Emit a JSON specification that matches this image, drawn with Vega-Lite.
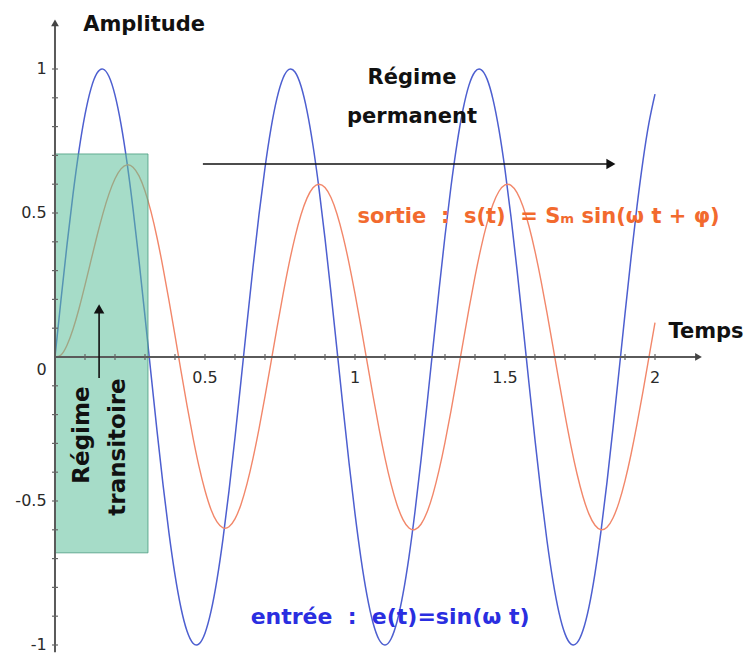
{
  "$schema": "https://vega.github.io/schema/vega-lite/v6.json",
  "width": 748,
  "height": 654,
  "autosize": "none",
  "padding": 0,
  "config": {"view": {"stroke": null}, "font": "DejaVu Sans"},
  "datasets": {
    "signal": [
      {"t": 0, "e": 0, "s": 0},
      {"t": 0.02, "e": 0.1987, "s": 0.0068},
      {"t": 0.04, "e": 0.3894, "s": 0.0407},
      {"t": 0.06, "e": 0.5646, "s": 0.0963},
      {"t": 0.08, "e": 0.7174, "s": 0.1677},
      {"t": 0.1, "e": 0.8415, "s": 0.2493},
      {"t": 0.12, "e": 0.932, "s": 0.3353},
      {"t": 0.14, "e": 0.9854, "s": 0.4202},
      {"t": 0.16, "e": 0.9996, "s": 0.4988},
      {"t": 0.18, "e": 0.9738, "s": 0.5664},
      {"t": 0.2, "e": 0.9093, "s": 0.6189},
      {"t": 0.22, "e": 0.8085, "s": 0.6533},
      {"t": 0.24, "e": 0.6755, "s": 0.6671},
      {"t": 0.26, "e": 0.5155, "s": 0.6591},
      {"t": 0.28, "e": 0.335, "s": 0.6288},
      {"t": 0.3, "e": 0.1411, "s": 0.5767},
      {"t": 0.32, "e": -0.0584, "s": 0.5046},
      {"t": 0.34, "e": -0.2555, "s": 0.4149},
      {"t": 0.36, "e": -0.4425, "s": 0.3106},
      {"t": 0.38, "e": -0.6119, "s": 0.1958},
      {"t": 0.4, "e": -0.7568, "s": 0.0748},
      {"t": 0.42, "e": -0.8716, "s": -0.048},
      {"t": 0.44, "e": -0.9516, "s": -0.1677},
      {"t": 0.46, "e": -0.9937, "s": -0.2798},
      {"t": 0.48, "e": -0.9962, "s": -0.3799},
      {"t": 0.5, "e": -0.9589, "s": -0.4637},
      {"t": 0.52, "e": -0.8835, "s": -0.5294},
      {"t": 0.54, "e": -0.7728, "s": -0.5729},
      {"t": 0.56, "e": -0.6313, "s": -0.5932},
      {"t": 0.58, "e": -0.4646, "s": -0.5894},
      {"t": 0.6, "e": -0.2794, "s": -0.5622},
      {"t": 0.62, "e": -0.0831, "s": -0.5119},
      {"t": 0.64, "e": 0.1165, "s": -0.4408},
      {"t": 0.66, "e": 0.3115, "s": -0.3522},
      {"t": 0.68, "e": 0.4941, "s": -0.2496},
      {"t": 0.7, "e": 0.657, "s": -0.1369},
      {"t": 0.72, "e": 0.7937, "s": -0.0184},
      {"t": 0.74, "e": 0.8987, "s": 0.1009},
      {"t": 0.76, "e": 0.9679, "s": 0.2163},
      {"t": 0.78, "e": 0.9985, "s": 0.3231},
      {"t": 0.8, "e": 0.9894, "s": 0.4165},
      {"t": 0.82, "e": 0.9407, "s": 0.4938},
      {"t": 0.84, "e": 0.8546, "s": 0.5517},
      {"t": 0.86, "e": 0.7344, "s": 0.5876},
      {"t": 0.88, "e": 0.5849, "s": 0.6},
      {"t": 0.9, "e": 0.4121, "s": 0.5885},
      {"t": 0.92, "e": 0.2229, "s": 0.5536},
      {"t": 0.94, "e": 0.0248, "s": 0.4966},
      {"t": 0.96, "e": -0.1743, "s": 0.4198},
      {"t": 0.98, "e": -0.3665, "s": 0.3262},
      {"t": 1.0, "e": -0.544, "s": 0.2197},
      {"t": 1.02, "e": -0.6999, "s": 0.1043},
      {"t": 1.04, "e": -0.8278, "s": -0.0151},
      {"t": 1.06, "e": -0.9228, "s": -0.134},
      {"t": 1.08, "e": -0.9809, "s": -0.2475},
      {"t": 1.1, "e": -1.0, "s": -0.3511},
      {"t": 1.12, "e": -0.9792, "s": -0.4408},
      {"t": 1.14, "e": -0.9193, "s": -0.5129},
      {"t": 1.16, "e": -0.8228, "s": -0.5645},
      {"t": 1.18, "e": -0.6938, "s": -0.5936},
      {"t": 1.2, "e": -0.5366, "s": -0.5991},
      {"t": 1.22, "e": -0.3582, "s": -0.5807},
      {"t": 1.24, "e": -0.1656, "s": -0.5392},
      {"t": 1.26, "e": 0.0336, "s": -0.4761},
      {"t": 1.28, "e": 0.2315, "s": -0.394},
      {"t": 1.3, "e": 0.4202, "s": -0.2962},
      {"t": 1.32, "e": 0.5921, "s": -0.1867},
      {"t": 1.34, "e": 0.7403, "s": -0.0697},
      {"t": 1.36, "e": 0.8593, "s": 0.0501},
      {"t": 1.38, "e": 0.9441, "s": 0.1679},
      {"t": 1.4, "e": 0.9906, "s": 0.279},
      {"t": 1.42, "e": 0.998, "s": 0.3791},
      {"t": 1.44, "e": 0.9657, "s": 0.4639},
      {"t": 1.46, "e": 0.8948, "s": 0.5303},
      {"t": 1.48, "e": 0.7883, "s": 0.5755},
      {"t": 1.5, "e": 0.6503, "s": 0.5978},
      {"t": 1.52, "e": 0.4864, "s": 0.5962},
      {"t": 1.54, "e": 0.3031, "s": 0.5707},
      {"t": 1.56, "e": 0.1078, "s": 0.5228},
      {"t": 1.58, "e": -0.0919, "s": 0.4539},
      {"t": 1.6, "e": -0.2879, "s": 0.3669},
      {"t": 1.62, "e": -0.4724, "s": 0.2653},
      {"t": 1.64, "e": -0.6381, "s": 0.1531},
      {"t": 1.66, "e": -0.7783, "s": 0.0348},
      {"t": 1.68, "e": -0.8876, "s": -0.0849},
      {"t": 1.7, "e": -0.9614, "s": -0.2012},
      {"t": 1.72, "e": -0.9969, "s": -0.3095},
      {"t": 1.74, "e": -0.9927, "s": -0.4055},
      {"t": 1.76, "e": -0.9488, "s": -0.4852},
      {"t": 1.78, "e": -0.8674, "s": -0.5456},
      {"t": 1.8, "e": -0.751, "s": -0.5843},
      {"t": 1.82, "e": -0.6049, "s": -0.5998},
      {"t": 1.84, "e": -0.4346, "s": -0.5912},
      {"t": 1.86, "e": -0.247, "s": -0.5591},
      {"t": 1.88, "e": -0.0496, "s": -0.5048},
      {"t": 1.9, "e": 0.1499, "s": -0.4303},
      {"t": 1.92, "e": 0.3433, "s": -0.3386},
      {"t": 1.94, "e": 0.5231, "s": -0.2335},
      {"t": 1.96, "e": 0.6819, "s": -0.119},
      {"t": 1.98, "e": 0.8137, "s": 0.0002},
      {"t": 2.0, "e": 0.9129, "s": 0.1195}
    ]
  },
  "layer": [
    {
      "data": {"name": "signal"},
      "mark": {"type": "line", "color": "#4d5fd0", "strokeWidth": 1.5, "interpolate": "natural"},
      "encoding": {
        "x": {"field": "t", "type": "quantitative", "scale": {"domain": [-0.1833, 2.31], "nice": false, "zero": false}, "axis": null},
        "y": {"field": "e", "type": "quantitative", "scale": {"domain": [-1.0313, 1.2396], "nice": false, "zero": false}, "axis": null}
      }
    },
    {
      "data": {"name": "signal"},
      "mark": {"type": "line", "color": "#f2876a", "strokeWidth": 1.4, "interpolate": "natural"},
      "encoding": {
        "x": {"field": "t", "type": "quantitative"},
        "y": {"field": "s", "type": "quantitative"}
      }
    },
    {
      "data": {"values": [{"t": 0, "t2": 0.31, "v": 0.705, "v2": -0.68}]},
      "mark": {"type": "rect", "fill": "#5cbf9a", "fillOpacity": 0.55, "stroke": "#4a9c80", "strokeWidth": 1, "strokeOpacity": 0.8},
      "encoding": {
        "x": {"field": "t", "type": "quantitative"},
        "x2": {"field": "t2"},
        "y": {"field": "v", "type": "quantitative"},
        "y2": {"field": "v2"}
      }
    },
    {
      "data": {"values": [
        {"t": 0, "t2": 0, "v": -1.025, "v2": 1.15},
        {"t": 0, "t2": 2.14, "v": 0, "v2": 0}
      ]},
      "mark": {"type": "rule", "color": "#5a5a5a", "strokeWidth": 2},
      "encoding": {
        "x": {"field": "t", "type": "quantitative"},
        "x2": {"field": "t2"},
        "y": {"field": "v", "type": "quantitative"},
        "y2": {"field": "v2"}
      }
    },
    {
      "data": {"values": [
        {"t": 0, "v": 1.16, "dir": "up"},
        {"t": 2.145, "v": 0, "dir": "right"}
      ]},
      "mark": {"type": "point", "filled": true, "opacity": 1, "size": 60, "color": "#444"},
      "encoding": {
        "x": {"field": "t", "type": "quantitative"},
        "y": {"field": "v", "type": "quantitative"},
        "shape": {"field": "dir", "type": "nominal", "scale": {"domain": ["up", "right"], "range": ["triangle-up", "triangle-right"]}, "legend": null}
      }
    },
    {
      "data": {"values": [
        {"v": -1}, {"v": -0.9}, {"v": -0.8}, {"v": -0.7}, {"v": -0.6}, {"v": -0.5}, {"v": -0.4}, {"v": -0.3}, {"v": -0.2}, {"v": -0.1},
        {"v": 0.1}, {"v": 0.2}, {"v": 0.3}, {"v": 0.4}, {"v": 0.5}, {"v": 0.6}, {"v": 0.7}, {"v": 0.8}, {"v": 0.9}, {"v": 1}
      ]},
      "mark": {"type": "tick", "orient": "horizontal", "size": 6, "thickness": 1.2, "color": "#666", "opacity": 1},
      "encoding": {
        "x": {"datum": 0, "type": "quantitative"},
        "y": {"field": "v", "type": "quantitative"}
      }
    },
    {
      "data": {"values": [
        {"t": 0.1}, {"t": 0.2}, {"t": 0.3}, {"t": 0.4}, {"t": 0.5}, {"t": 0.6}, {"t": 0.7}, {"t": 0.8}, {"t": 0.9}, {"t": 1.0},
        {"t": 1.1}, {"t": 1.2}, {"t": 1.3}, {"t": 1.4}, {"t": 1.5}, {"t": 1.6}, {"t": 1.7}, {"t": 1.8}, {"t": 1.9}, {"t": 2.0}
      ]},
      "mark": {"type": "tick", "orient": "vertical", "size": 6, "thickness": 1.2, "color": "#666", "opacity": 1},
      "encoding": {
        "x": {"field": "t", "type": "quantitative"},
        "y": {"datum": 0, "type": "quantitative"}
      }
    },
    {
      "data": {"values": [
        {"t": 0.5, "v": -0.073, "label": "0.5"},
        {"t": 1.0, "v": -0.073, "label": "1"},
        {"t": 1.5, "v": -0.073, "label": "1.5"},
        {"t": 2.0, "v": -0.073, "label": "2"}
      ]},
      "mark": {"type": "text", "fontSize": 16, "color": "#2a2a2a", "align": "center", "baseline": "middle"},
      "encoding": {
        "x": {"field": "t", "type": "quantitative"},
        "y": {"field": "v", "type": "quantitative"},
        "text": {"field": "label"}
      }
    },
    {
      "data": {"values": [
        {"t": -0.028, "v": 1, "label": "1"},
        {"t": -0.028, "v": 0.5, "label": "0.5"},
        {"t": -0.028, "v": -0.045, "label": "0"},
        {"t": -0.028, "v": -0.5, "label": "-0.5"},
        {"t": -0.028, "v": -1, "label": "-1"}
      ]},
      "mark": {"type": "text", "fontSize": 16, "color": "#2a2a2a", "align": "right", "baseline": "middle"},
      "encoding": {
        "x": {"field": "t", "type": "quantitative"},
        "y": {"field": "v", "type": "quantitative"},
        "text": {"field": "label"}
      }
    },
    {
      "data": {"values": [
        {"t": 0.493, "t2": 1.84, "v": 0.67, "v2": 0.67},
        {"t": 0.147, "t2": 0.147, "v": -0.073, "v2": 0.16}
      ]},
      "mark": {"type": "rule", "color": "#111", "strokeWidth": 1.6},
      "encoding": {
        "x": {"field": "t", "type": "quantitative"},
        "x2": {"field": "t2"},
        "y": {"field": "v", "type": "quantitative"},
        "y2": {"field": "v2"}
      }
    },
    {
      "data": {"values": [
        {"t": 1.853, "v": 0.67, "dir": "right"},
        {"t": 0.147, "v": 0.167, "dir": "up"}
      ]},
      "mark": {"type": "point", "filled": true, "opacity": 1, "size": 110, "color": "#111"},
      "encoding": {
        "x": {"field": "t", "type": "quantitative"},
        "y": {"field": "v", "type": "quantitative"},
        "shape": {"field": "dir", "type": "nominal", "scale": {"domain": ["up", "right"], "range": ["triangle-up", "triangle-right"]}, "legend": null}
      }
    },
    {
      "data": {"values": [
        {"t": 0.297, "v": 1.153, "label": "Amplitude"},
        {"t": 2.17, "v": 0.087, "label": "Temps"},
        {"t": 1.19, "v": 0.969, "label": "Régime"},
        {"t": 1.19, "v": 0.833, "label": "permanent"}
      ]},
      "mark": {"type": "text", "fontSize": 21, "fontWeight": "bold", "color": "#111", "align": "center", "baseline": "middle"},
      "encoding": {
        "x": {"field": "t", "type": "quantitative"},
        "y": {"field": "v", "type": "quantitative"},
        "text": {"field": "label"}
      }
    },
    {
      "data": {"values": [
        {"t": 0.09, "v": -0.271, "label": "Régime"},
        {"t": 0.21, "v": -0.3125, "label": "transitoire"}
      ]},
      "mark": {"type": "text", "fontSize": 23, "fontWeight": "bold", "color": "#111", "align": "center", "baseline": "middle", "angle": 270},
      "encoding": {
        "x": {"field": "t", "type": "quantitative"},
        "y": {"field": "v", "type": "quantitative"},
        "text": {"field": "label"}
      }
    },
    {
      "data": {"values": [
        {"t": 1.612, "v": 0.486, "label": "sortie\u00a0\u00a0:\u00a0\u00a0s(t)\u00a0\u00a0=\u00a0Sₘ\u00a0sin(ω\u00a0t\u00a0+\u00a0φ)"}
      ]},
      "mark": {"type": "text", "fontSize": 21, "fontWeight": "bold", "color": "#f26a2e", "align": "center", "baseline": "middle"},
      "encoding": {
        "x": {"field": "t", "type": "quantitative"},
        "y": {"field": "v", "type": "quantitative"},
        "text": {"field": "label"}
      }
    },
    {
      "data": {"values": [
        {"t": 1.117, "v": -0.903, "label": "entrée\u00a0\u00a0:\u00a0\u00a0e(t)=sin(ω\u00a0t)"}
      ]},
      "mark": {"type": "text", "fontSize": 22, "fontWeight": "bold", "color": "#2a2ee0", "align": "center", "baseline": "middle"},
      "encoding": {
        "x": {"field": "t", "type": "quantitative"},
        "y": {"field": "v", "type": "quantitative"},
        "text": {"field": "label"}
      }
    }
  ]
}
